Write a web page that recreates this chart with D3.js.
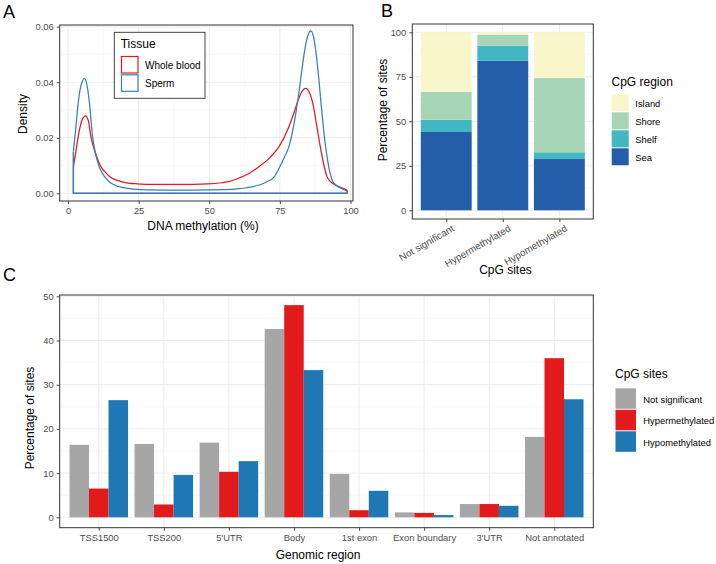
<!DOCTYPE html>
<html><head><meta charset="utf-8">
<script src="https://cdn.jsdelivr.net/npm/d3@7"></script>
<style>
body{margin:0;background:#fff}
text{font-family:"Liberation Sans",Arial,Helvetica,sans-serif}
</style>
</head><body>
<svg id="chart" width="716" height="564"></svg>
<script>
// ---------- Panel A data (density of DNA methylation) ----------
const bloodX = [1.9,2.8,3.6,5.0,6.2,7.2,8.1,9.7,10.6,11.5,13.0,14.8,16.5,18.8,21.2,24.7,29.6,39.5,49.4,54.3,57.3,60.6,64.2,67.6,71.1,74.7,78.2,80.0,81.7,83.0,84.2,85.5,86.9,88.1,89.3,90.4,91.7,92.9,94.7,96.3,98.8];
const bloodDensity = [0.0096,0.015,0.0204,0.0264,0.0279,0.0262,0.0204,0.0145,0.012,0.0098,0.0078,0.006,0.005,0.0042,0.0037,0.0034,0.0032,0.0032,0.0034,0.0038,0.0043,0.0055,0.0072,0.0096,0.0125,0.0168,0.024,0.029,0.0342,0.0370,0.0378,0.0362,0.0312,0.024,0.0168,0.011,0.006,0.0042,0.003,0.0022,0.0012];
const spermX = [1.9,2.8,3.6,4.5,5.8,6.9,7.6,8.7,9.7,10.6,11.5,13.0,14.8,16.5,18.8,21.2,24.7,29.6,39.5,49.4,54.3,60.0,63.2,67.0,70.1,72.9,74.7,76.6,78.2,80.0,81.7,83.0,84.0,85.0,85.9,87.0,88.1,88.9,89.9,90.9,91.7,92.6,93.5,94.8,96.3,98.8];
const spermDensity = [0.015,0.024,0.0324,0.0384,0.0413,0.038,0.0324,0.0204,0.0145,0.011,0.0085,0.006,0.004,0.003,0.0022,0.0018,0.0014,0.0012,0.0011,0.0012,0.0013,0.0016,0.002,0.0028,0.004,0.0058,0.009,0.013,0.0168,0.025,0.036,0.046,0.0528,0.057,0.0585,0.056,0.048,0.040,0.0288,0.019,0.0132,0.008,0.0048,0.003,0.002,0.0008];
const tissues = ["Whole blood","Sperm"];
const tissueColors = ["#e41a1c","#377eb8"];
const aXTicks = [0,25,50,75,100];
const aYTicks = [0,0.02,0.04,0.06];

// ---------- Panel B data (CpG region composition) ----------
const siteGroups = ["Not significant","Hypermethylated","Hypomethylated"];
const cpgRegions = ["Sea","Shelf","Shore","Island"];           // stack order bottom -> top
const legendRegions = ["Island","Shore","Shelf","Sea"];
const regionColors = {Island:"#f9f6cb", Shore:"#a6d6b6", Shelf:"#43b6c4", Sea:"#245ea8"};
const seaPct    = [44.0, 84.0, 28.8];
const shelfPct  = [6.9, 8.5, 3.8];
const shorePct  = [15.7, 6.2, 41.7];
const islandPct = [33.4, 1.3, 25.7];
const bYTicks = [0,25,50,75,100];

// ---------- Panel C data (genomic region) ----------
const genomicRegions = ["TSS1500","TSS200","5'UTR","Body","1st exon","Exon boundary","3'UTR","Not annotated"];
const notSignificant  = [16.4, 16.6, 16.9, 42.6, 9.8, 1.1, 3.0, 18.2];
const hypermethylated = [6.5, 2.9, 10.3, 48.0, 1.6, 1.0, 3.0, 36.0];
const hypomethylated  = [26.5, 9.6, 12.7, 33.3, 6.0, 0.5, 2.6, 26.7];
const siteColors = ["#a6a6a6","#e31a1c","#1f78b4"];
const cYTicks = [0,10,20,30,40,50];

const svg = d3.select("#chart");
svg.append("rect").attr("width",716).attr("height",564).attr("fill","#fff");

const GRID_MAJOR="#ebebeb", GRID_MINOR="#f5f5f5", BORDER="#333333", TICKTXT="#4d4d4d";
const LEG_FS = 9.4, TICK_FS = 9.4, TITLE_FS = 12;

function panelLabel(t,x,y){
  svg.append("text").attr("x",x).attr("y",y).attr("font-size",18).attr("fill","#000").text(t);
}
function hGrid(g,scale,vals,x0,x1,color,w){
  g.selectAll(null).data(vals).enter().append("line")
   .attr("x1",x0).attr("x2",x1).attr("y1",d=>scale(d)).attr("y2",d=>scale(d))
   .attr("stroke",color).attr("stroke-width",w);
}
function vGrid(g,vals,y0,y1,color,w){
  g.selectAll(null).data(vals).enter().append("line")
   .attr("y1",y0).attr("y2",y1).attr("x1",d=>d).attr("x2",d=>d)
   .attr("stroke",color).attr("stroke-width",w);
}
function styleAxis(ax){
  ax.select(".domain").remove();
  ax.selectAll(".tick line").attr("stroke",BORDER).attr("stroke-width",0.9);
  ax.selectAll(".tick text").attr("fill",TICKTXT).attr("font-size",TICK_FS)
    .attr("font-family",'"Liberation Sans",Arial,sans-serif');
}

// ================= Panel A =================
(function(){
  const L=59.7,R=353,T=25,B=201;
  const x=d3.scaleLinear().domain([0,100]).range([68,350.5]);
  const y=d3.scaleLinear().domain([0,0.06]).range([193.3,26.7]);
  const g=svg.append("g");
  g.append("rect").attr("x",L).attr("y",T).attr("width",R-L).attr("height",B-T).attr("fill","#fff");
  hGrid(g,y,[0.01,0.03,0.05],L,R,GRID_MINOR,0.6);
  vGrid(g,[12.5,37.5,62.5,87.5].map(x),T,B,GRID_MINOR,0.6);
  hGrid(g,y,aYTicks,L,R,GRID_MAJOR,1);
  vGrid(g,aXTicks.map(x),T,B,GRID_MAJOR,1);

  const line=d3.line().x(d=>x(d[0])).y(d=>y(d[1])).curve(d3.curveMonotoneX);
  const lin=d3.line().x(d=>x(d[0])).y(d=>y(d[1]));
  const series=[[bloodX,bloodDensity],[spermX,spermDensity]];
  series.forEach((s,i)=>{
    const pts=s[0].map((v,j)=>[v,s[1][j]]);
    const n=pts.length-1;
    g.append("path").attr("d",line(pts)).attr("fill","none").attr("stroke",tissueColors[i]).attr("stroke-width",1.25);
    g.append("path").attr("d",lin([[pts[n][0],pts[n][1]],[pts[n][0],0],[pts[0][0],0],[pts[0][0],pts[0][1]]]))
      .attr("fill","none").attr("stroke",tissueColors[i]).attr("stroke-width",i===1?1.5:1.0);
  });
  g.append("rect").attr("x",L).attr("y",T).attr("width",R-L).attr("height",B-T).attr("fill","none").attr("stroke",BORDER).attr("stroke-width",1);

  const ax=g.append("g").attr("transform",`translate(0,${B})`).call(d3.axisBottom(x).tickValues(aXTicks).tickSize(3).tickPadding(3).tickFormat(d3.format("d")));
  styleAxis(ax);
  const ay=g.append("g").attr("transform",`translate(${L},0)`).call(d3.axisLeft(y).tickValues(aYTicks).tickSize(3).tickPadding(3).tickFormat(d3.format(".2f")));
  styleAxis(ay);
  g.append("text").attr("x",203).attr("y",230).attr("text-anchor","middle").attr("font-size",TITLE_FS).text("DNA methylation (%)");
  g.append("text").attr("transform",`translate(27,114) rotate(-90)`).attr("text-anchor","middle").attr("font-size",TITLE_FS).text("Density");

  // legend
  const lg=g.append("g");
  lg.append("rect").attr("x",114.3).attr("y",32.3).attr("width",90.7).attr("height",66).attr("fill","#fff").attr("stroke",BORDER).attr("stroke-width",0.9);
  lg.append("text").attr("x",120.7).attr("y",48).attr("font-size",TITLE_FS).text("Tissue");
  tissues.forEach((t,i)=>{
    const ky=56+i*18.3;
    lg.append("rect").attr("x",121.5).attr("y",ky+0.5).attr("width",16.5).attr("height",16.5).attr("fill","#fff").attr("stroke",tissueColors[i]).attr("stroke-width",1.2);
    lg.append("text").attr("x",145).attr("y",ky+12.5).attr("font-size",10).text(t);
  });
})();
panelLabel("A",3,18);

// ================= Panel B =================
(function(){
  const L=412.3,R=593.3,T=24,B=219;
  const x=d3.scalePoint().domain(siteGroups).range([L,R]).padding(0.6);
  const bw=x.step()*0.9;
  const y=d3.scaleLinear().domain([0,100]).range([210.3,32.3]);
  const g=svg.append("g");
  hGrid(g,y,[12.5,37.5,62.5,87.5],L,R,GRID_MINOR,0.6);
  hGrid(g,y,bYTicks,L,R,GRID_MAJOR,1);
  vGrid(g,siteGroups.map(x),T,B,GRID_MAJOR,1);

  const valsByRegion={Sea:seaPct,Shelf:shelfPct,Shore:shorePct,Island:islandPct};
  const rows=siteGroups.map((s,i)=>{const o={group:s};cpgRegions.forEach(r=>o[r]=valsByRegion[r][i]);return o;});
  const stack=d3.stack().keys(cpgRegions)(rows);
  stack.forEach(layer=>{
    g.selectAll(null).data(layer).enter().append("rect")
     .attr("x",d=>x(d.data.group)-bw/2).attr("width",bw)
     .attr("y",d=>y(d[1])).attr("height",d=>y(d[0])-y(d[1]))
     .attr("fill",regionColors[layer.key]);
  });
  g.append("rect").attr("x",L).attr("y",T).attr("width",R-L).attr("height",B-T).attr("fill","none").attr("stroke",BORDER).attr("stroke-width",1);
  const ay=g.append("g").attr("transform",`translate(${L},0)`).call(d3.axisLeft(y).tickValues(bYTicks).tickSize(3).tickPadding(3));
  styleAxis(ay);
  const ax=g.append("g").attr("transform",`translate(0,${B})`).call(d3.axisBottom(x).tickSize(3).tickFormat(()=>""));
  styleAxis(ax);
  g.selectAll(null).data(siteGroups).enter().append("text")
   .attr("transform",d=>`translate(${x(d)+5},${B+5}) rotate(-30)`)
   .attr("text-anchor","end").attr("dy","0.75em").attr("font-size",TICK_FS+0.4).attr("fill",TICKTXT).text(d=>d);
  g.append("text").attr("x",505.5).attr("y",274).attr("text-anchor","middle").attr("font-size",TITLE_FS).text("CpG sites");
  g.append("text").attr("transform",`translate(387,110) rotate(-90)`).attr("text-anchor","middle").attr("font-size",TITLE_FS).text("Percentage of sites");
  // legend
  g.append("text").attr("x",611.5).attr("y",86).attr("font-size",TITLE_FS).text("CpG region");
  legendRegions.forEach((r,i)=>{
    const ky=94.3+i*18;
    g.append("rect").attr("x",611.7).attr("y",ky).attr("width",17).attr("height",17).attr("fill",regionColors[r]);
    g.append("text").attr("x",635.3).attr("y",ky+12.5).attr("font-size",LEG_FS).text(r);
  });
})();
panelLabel("B",381,17);

// ================= Panel C =================
(function(){
  const L=59.7,R=593.3,T=295,B=527.7;
  const x=d3.scalePoint().domain(genomicRegions).range([L,R]).padding(0.6);
  const gw=x.step()*0.9;
  const sites=["Not significant","Hypermethylated","Hypomethylated"];
  const xs=d3.scaleBand().domain(sites).range([-gw/2,gw/2]).padding(0);
  const y=d3.scaleLinear().domain([0,50]).range([517.3,296.3]);
  const g=svg.append("g");
  hGrid(g,y,[5,15,25,35,45],L,R,GRID_MINOR,0.6);
  hGrid(g,y,cYTicks,L,R,GRID_MAJOR,1);
  vGrid(g,genomicRegions.map(x),T,B,GRID_MAJOR,1);
  const vals=[notSignificant,hypermethylated,hypomethylated];
  sites.forEach((s,si)=>{
    g.selectAll(null).data(genomicRegions).enter().append("rect")
     .attr("x",d=>x(d)+xs(s)).attr("width",xs.bandwidth())
     .attr("y",(d,i)=>y(vals[si][i])).attr("height",(d,i)=>y(0)-y(vals[si][i]))
     .attr("fill",siteColors[si]);
  });
  g.append("rect").attr("x",L).attr("y",T).attr("width",R-L).attr("height",B-T).attr("fill","none").attr("stroke",BORDER).attr("stroke-width",1);
  const ay=g.append("g").attr("transform",`translate(${L},0)`).call(d3.axisLeft(y).tickValues(cYTicks).tickSize(3).tickPadding(3));
  styleAxis(ay);
  const ax=g.append("g").attr("transform",`translate(0,${B})`).call(d3.axisBottom(x).tickSize(3).tickPadding(4));
  styleAxis(ax);
  g.append("text").attr("x",318).attr("y",559).attr("text-anchor","middle").attr("font-size",TITLE_FS).text("Genomic region");
  g.append("text").attr("transform",`translate(34,418) rotate(-90)`).attr("text-anchor","middle").attr("font-size",TITLE_FS).text("Percentage of sites");
  // legend
  g.append("text").attr("x",615).attr("y",378).attr("font-size",TITLE_FS).text("CpG sites");
  sites.forEach((s,i)=>{
    const ky=388.3+i*21.5;
    g.append("rect").attr("x",615.5).attr("y",ky).attr("width",20.5).attr("height",20.5).attr("fill",siteColors[i]);
    g.append("text").attr("x",643.3).attr("y",ky+14.5).attr("font-size",LEG_FS).text(s);
  });
})();
panelLabel("C",3,281);
</script>
</body></html>
